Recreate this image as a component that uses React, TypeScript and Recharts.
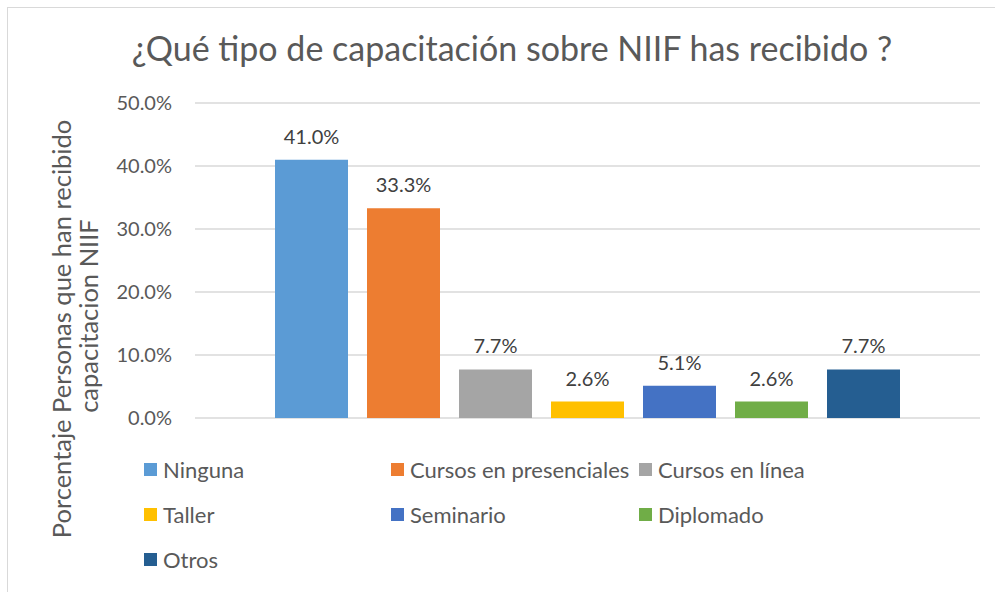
import { BarChart, Bar, XAxis, YAxis, CartesianGrid, LabelList } from 'recharts';

// Series (one bar each, Excel-style single category)
const categories = [
  'Ninguna',
  'Cursos en presenciales',
  'Cursos en línea',
  'Taller',
  'Seminario',
  'Diplomado',
  'Otros',
];
const values = [41.0, 33.3, 7.7, 2.6, 5.1, 2.6, 7.7];
const colors = ['#5B9BD5', '#ED7D31', '#A5A5A5', '#FFC000', '#4472C4', '#70AD47', '#255E91'];
const yTicks = [0, 10, 20, 30, 40, 50];

const title = '¿Qué tipo de capacitación sobre NIIF has recibido ?';
const yLabelLines = ['Porcentaje Personas que han recibido', 'capacitacion NIIF'];

const FONT = 'Lato, "Open Sans", sans-serif';
const TEXT = '#595959';

const row: Record<string, string | number> = { name: 'all' };
categories.forEach((_, i) => {
  row['s' + i] = values[i];
});
const chartData = [row];

const pct = (v: number) => `${v.toFixed(1)}%`;

// legend layout: 3 columns
const legendRows = [461, 506, 551];
const legendCols = [136, 383, 631];
// y-axis title line centres (x, y)
const yLabelPos = [
  [53, 321],
  [80, 308],
];

export default function App() {
  return (
    <div
      style={{
        position: 'absolute',
        left: 7,
        top: 7,
        width: 987,
        height: 584,
        borderLeft: '1px solid #d9d9d9',
        borderTop: '1px solid #d9d9d9',
        background: '#fff',
        fontFamily: FONT,
        overflow: 'hidden',
      }}
    >
      <div
        style={{
          position: 'absolute',
          top: 20,
          left: 0,
          width: 1008,
          textAlign: 'center',
          fontSize: 34,
          lineHeight: '40px',
          color: TEXT,
          whiteSpace: 'nowrap',
        }}
      >
        {title}
      </div>

      {/* Y axis title, two rotated lines */}
      {yLabelLines.map((line, i) => (
        <div
          key={i}
          style={{
            position: 'absolute',
            left: yLabelPos[i][0] - 300,
            top: yLabelPos[i][1] - 15,
            width: 600,
            height: 30,
            lineHeight: '30px',
            textAlign: 'center',
            fontSize: 25.5,
            color: TEXT,
            transform: 'rotate(-90deg)',
            whiteSpace: 'nowrap',
          }}
        >
          {line}
        </div>
      ))}

      <div style={{ position: 'absolute', left: 0, top: 0 }}>
        <BarChart
          width={987}
          height={584}
          data={chartData}
          margin={{ top: 95, right: 15, bottom: 174, left: 0 }}
          barSize={73}
          barGap={19}
        >
          <CartesianGrid vertical={false} stroke="#d9d9d9" strokeWidth={1.5} />
          <XAxis dataKey="name" hide />
          <YAxis
            width={187}
            domain={[0, 50]}
            ticks={yTicks}
            tickFormatter={pct}
            axisLine={false}
            tickLine={false}
            tickSize={0}
            tickMargin={23}
            tick={{ fontSize: 20, fill: TEXT, fontFamily: FONT }}
          />
          {categories.map((c, i) => (
            <Bar key={c} dataKey={'s' + i} name={c} fill={colors[i]} isAnimationActive={false}>
              <LabelList
                dataKey={'s' + i}
                position="top"
                offset={16}
                formatter={(v: number) => pct(v)}
                style={{ fontSize: 20, fill: '#404040', fontFamily: FONT }}
              />
            </Bar>
          ))}
        </BarChart>
      </div>

      {/* Legend */}
      {categories.map((c, i) => (
        <div
          key={c}
          style={{
            position: 'absolute',
            left: legendCols[i % 3],
            top: legendRows[Math.floor(i / 3)] - 13,
            height: 26,
            display: 'flex',
            alignItems: 'center',
            fontSize: 22,
            color: TEXT,
            whiteSpace: 'nowrap',
          }}
        >
          <span style={{ width: 13, height: 13, background: colors[i], marginRight: 6 }} />
          {c}
        </div>
      ))}
    </div>
  );
}
